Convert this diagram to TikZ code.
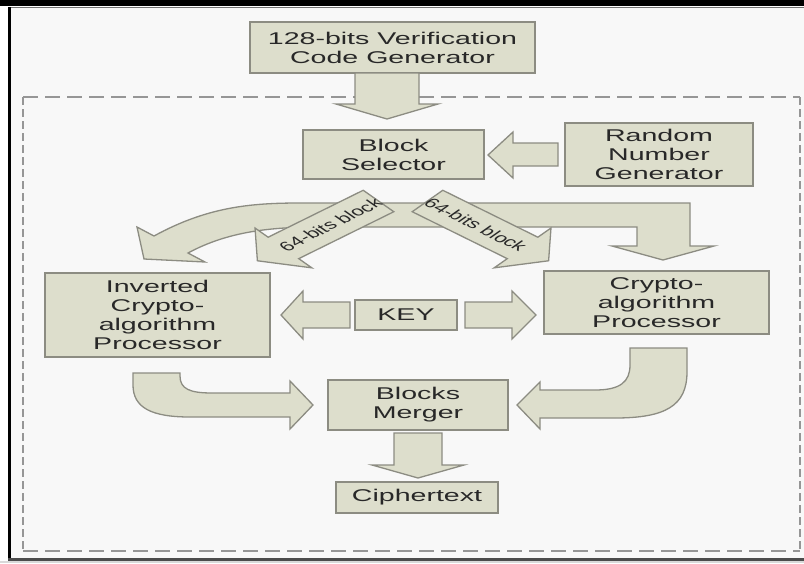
\documentclass[tikz,border=0pt]{standalone}
\usepackage{fontspec}
\newfontfamily\widefont[FakeStretch=1.68]{Liberation Sans}
\newfontfamily\plainfont{Liberation Sans}
\definecolor{boxfill}{RGB}{221,222,204}
\definecolor{boxline}{RGB}{140,140,130}
\definecolor{txt}{RGB}{40,40,40}
\definecolor{paper}{RGB}{248,248,248}
\definecolor{dashgray}{RGB}{150,150,150}
\tikzset{
  box/.style={draw=boxline, fill=boxfill, line width=1.3pt, text=txt,
    align=center, inner sep=0pt, font=\widefont\fontsize{17}{19}\selectfont},
  blockarrow/.style={draw=boxline, fill=boxfill, line width=1.3pt, line join=miter},
  hdash/.style={dashgray, line width=1.8pt, dash pattern=on 15pt off 7pt},
  vdash/.style={dashgray, line width=2.8pt, dash pattern=on 8pt off 4pt},
  armlabel/.style={text=txt, transform shape, inner sep=0pt,
    font=\plainfont\fontsize{13.2}{15}\selectfont}
}
\begin{document}
\begin{tikzpicture}[x=1pt,y=-1pt]
\useasboundingbox (0,0) rectangle (804,563);
% page and frame
\fill[white] (0,0) rectangle (804,563);
\fill[paper] (9,8) rectangle (804,559);
\fill[black] (0,0) rectangle (804,5.5);
\draw[black!55, line width=1.5pt] (9,7.5) -- (804,7.5);
\draw[black, line width=2.5pt] (9.5,7) -- (9.5,560);
\draw[black!70, line width=2.5pt] (8,559.5) -- (804,559.5);
\fill[black!15] (0,561) rectangle (804,563);

% dashed enclosure
\draw[hdash] (23,97) -- (800,97);
\draw[hdash] (23,551) -- (800,551);
\draw[vdash] (23,97) -- (23,551);
\draw[vdash] (800,97) -- (800,551);

% boxes
\node[box, minimum width=285pt, minimum height=51pt] (codegen) at (392.5,47.5)
  {128-bits Verification\\Code Generator};
\node[box, minimum width=181pt, minimum height=49pt] (blocksel) at (393.5,154.5)
  {Block\\Selector};
\node[box, minimum width=188pt, minimum height=63pt] (rng) at (659,154.5)
  {Random\\Number\\Generator};
\node[box, minimum width=225pt, minimum height=84pt] (inverted) at (157.5,315)
  {Inverted\\Crypto-\\algorithm\\Processor};
\node[box, minimum width=102pt, minimum height=30pt] (key) at (406,315) {KEY};
\node[box, minimum width=225pt, minimum height=63pt] (crypto) at (656.5,302.5)
  {Crypto-\\algorithm\\Processor};
\node[box, minimum width=180pt, minimum height=50pt] (merger) at (418,405)
  {Blocks\\Merger};
\node[box, minimum width=162pt, minimum height=31pt] (cipher) at (417,497.5)
  {Ciphertext};

% code generator -> block selector
\draw[blockarrow] (355,73) -- (355,104) -- (336,104) -- (387,119) -- (438,104)
  -- (419,104) -- (419,73) -- cycle;
% random number generator -> block selector
\draw[blockarrow] (558,143) -- (513,143) -- (513,132) -- (488,155) -- (513,178)
  -- (513,166) -- (558,166) -- cycle;

% split band: curved branch to the left, bent branch down to the right
\draw[blockarrow] (154,236) .. controls (207,207) and (250,203) .. (300,203)
  -- (690,203) -- (690,246) -- (714,246) -- (663,260) -- (612,246) -- (637,246)
  -- (637,227) -- (320,227) .. controls (270,227) and (228,231.5) .. (188,253)
  -- (205,262) -- (144,259) -- (137,227) -- cycle;

% the two 64-bit block arrows
\begin{scope}[shift={(378.5,201)}, xscale=1.7, rotate=220]
  \draw[blockarrow] (0,-14) -- (73,-14) -- (73,-26) -- (93,0) -- (73,26)
    -- (73,14) -- (0,14) -- cycle;
  \node[armlabel, rotate=180] (lblL) at (37,0) {64-bits block};
\end{scope}
\begin{scope}[shift={(427.5,201)}, xscale=1.7, rotate=-40]
  \draw[blockarrow] (0,-14) -- (73,-14) -- (73,-26) -- (93,0) -- (73,26)
    -- (73,14) -- (0,14) -- cycle;
  \node[armlabel] (lblR) at (37,0) {64-bits block};
\end{scope}

% key -> both processors
\draw[blockarrow] (350,302) -- (303,302) -- (303,291) -- (281,315) -- (303,339)
  -- (303,328) -- (350,328) -- cycle;
\draw[blockarrow] (465,302) -- (512,302) -- (512,291) -- (536,315) -- (512,339)
  -- (512,328) -- (465,328) -- cycle;

% processors -> blocks merger
\draw[blockarrow] (133,373) -- (133,385) .. controls (133,408) and (152,417) .. (190,417)
  -- (290,417) -- (290,429) -- (313,405) -- (290,381) -- (290,393) -- (212,393)
  .. controls (190,393) and (180,389) .. (180,376) -- (180,373) -- cycle;
\draw[blockarrow] (687,348) -- (687,372) .. controls (687,406) and (665,418) .. (615,418)
  -- (540,418) -- (540,429) -- (517,405) -- (540,382) -- (540,390) -- (595,390)
  .. controls (620,390) and (630,382) .. (630,365) -- (630,348) -- cycle;

% blocks merger -> ciphertext
\draw[blockarrow] (394,433) -- (394,465) -- (372,465) -- (418,478) -- (464,465)
  -- (442,465) -- (442,433) -- cycle;
\end{tikzpicture}
\end{document}
